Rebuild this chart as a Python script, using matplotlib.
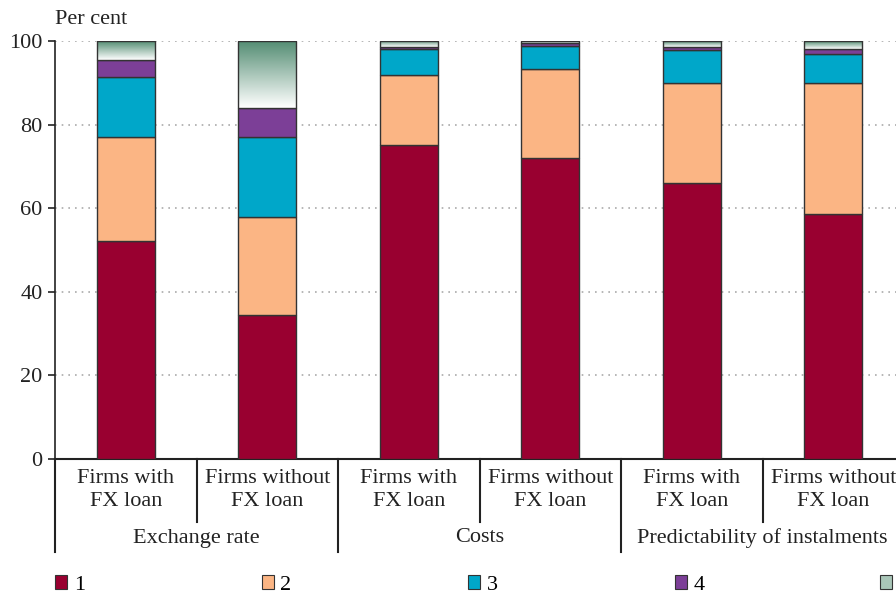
import numpy as np
import matplotlib
matplotlib.use("Agg")
import matplotlib.pyplot as plt
from matplotlib.patches import Patch
from matplotlib.colors import LinearSegmentedColormap
import matplotlib.transforms as mtransforms

plt.rcParams['font.family'] = ['Liberation Serif', 'DejaVu Serif']

bar_labels = ["Firms with\nFX loan", "Firms without\nFX loan"] * 3
groups = ["Exchange rate", "Costs", "Predictability of instalments"]
series_names = ["1", "2", "3", "4", "5"]

s1 = [52.2, 34.4, 75.1, 72.0, 66.0, 58.6]
s2 = [24.8, 23.5, 16.8, 21.2, 24.0, 31.4]
s3 = [14.4, 19.1, 6.2, 5.6, 7.9, 6.8]
s4 = [4.1, 7.0, 0.4, 0.8, 0.7, 1.3]
s5 = [4.5, 16.0, 1.5, 0.4, 1.4, 1.9]
series = [s1, s2, s3, s4, s5]
colors = ["#990030", "#FBB584", "#00A7C9", "#7C3F97", "#558E74"]
edge = "#333333"
FS = 16

W, H = 896, 594
fig = plt.figure(figsize=(W / 100, H / 100), dpi=100)
ax_left, ax_right, ax_top, ax_bot = 55, 904, 41, 459
ax = fig.add_axes([ax_left / W, 1 - ax_bot / H, (ax_right - ax_left) / W, (ax_bot - ax_top) / H])

x = np.arange(len(s1))
bw = 0.41
bottom = np.zeros(len(s1))
grad_cmap = LinearSegmentedColormap.from_list("g", ["#FFFFFF", "#558E74"])
for i, (vals, c) in enumerate(zip(series, colors)):
    vals = np.array(vals)
    if i < 4:
        ax.bar(x, vals, bw, bottom=bottom, color=c, edgecolor=edge, linewidth=1.0, zorder=3)
    else:
        bars = ax.bar(x, vals, bw, bottom=bottom, color="none", edgecolor=edge, linewidth=1.0, zorder=4)
        grad = np.linspace(0, 1, 100).reshape(-1, 1)
        for b in bars:
            x0, y0, w, h = b.get_x(), b.get_y(), b.get_width(), b.get_height()
            ax.imshow(grad, cmap=grad_cmap, aspect='auto', origin='lower',
                      extent=[x0, x0 + w, y0, y0 + h], zorder=3, interpolation='bilinear')
    bottom += vals

ax.set_xlim(-0.5, 5.5)
ax.set_ylim(0, 100)
ax.set_yticks([0, 20, 40, 60, 80, 100])
ax.tick_params(axis='y', labelsize=FS, length=5, width=1.2, direction='out', pad=4, colors='#222222')
ax.tick_params(axis='x', bottom=False, labelbottom=False)
for yv in [20, 40, 60, 80, 100]:
    ax.axhline(yv, color='#AAAAAA', linestyle=(0, (1, 3)), linewidth=1.2, zorder=1)
for s in ['top', 'right']:
    ax.spines[s].set_visible(False)
ax.spines['left'].set_linewidth(1.2)
ax.spines['bottom'].set_linewidth(1.5)
ax.spines['left'].set_color('#222222')
ax.spines['bottom'].set_color('#222222')

fig.text(ax_left / W, 1 - 20 / H, "Per cent", fontsize=FS, va='center', ha='left', color='#222222')

trans = mtransforms.blended_transform_factory(ax.transData, ax.transAxes)
ax_h = ax_bot - ax_top
short_y = -(522 - ax_bot) / ax_h
long_y = -(552 - ax_bot) / ax_h
for k in range(7):
    xs = k - 0.5
    yb = long_y if k % 2 == 0 else short_y
    ax.plot([xs, xs], [0, yb], transform=trans, color='#222222', linewidth=1.5, clip_on=False)

lab_y = -(490 - ax_bot) / ax_h
for xi, lab in zip(x, bar_labels):
    ax.text(xi, lab_y, lab, transform=trans, ha='center', va='center', fontsize=FS,
            linespacing=1.3, color='#222222')
grp_y = -(538 - ax_bot) / ax_h
for gi, g in enumerate(groups):
    ax.text(2 * gi + 0.5, grp_y, g, transform=trans, ha='center', va='center', fontsize=FS, color='#222222')

leg_x = [55, 261.5, 468, 674.5, 880]
for i, (c, name) in enumerate(zip(colors, series_names)):
    fc = c if i < 4 else "#A9C6B8"
    h = Patch(facecolor=fc, edgecolor=edge, linewidth=0.8)
    lg = fig.legend([h], [name], loc='center left', bbox_to_anchor=(leg_x[i] / W, 1 - 585 / H),
                    frameon=False, fontsize=FS, handlelength=0.55, handleheight=0.55,
                    handletextpad=0.3, borderaxespad=0, borderpad=0)

fig.savefig("out.png", dpi=100)
